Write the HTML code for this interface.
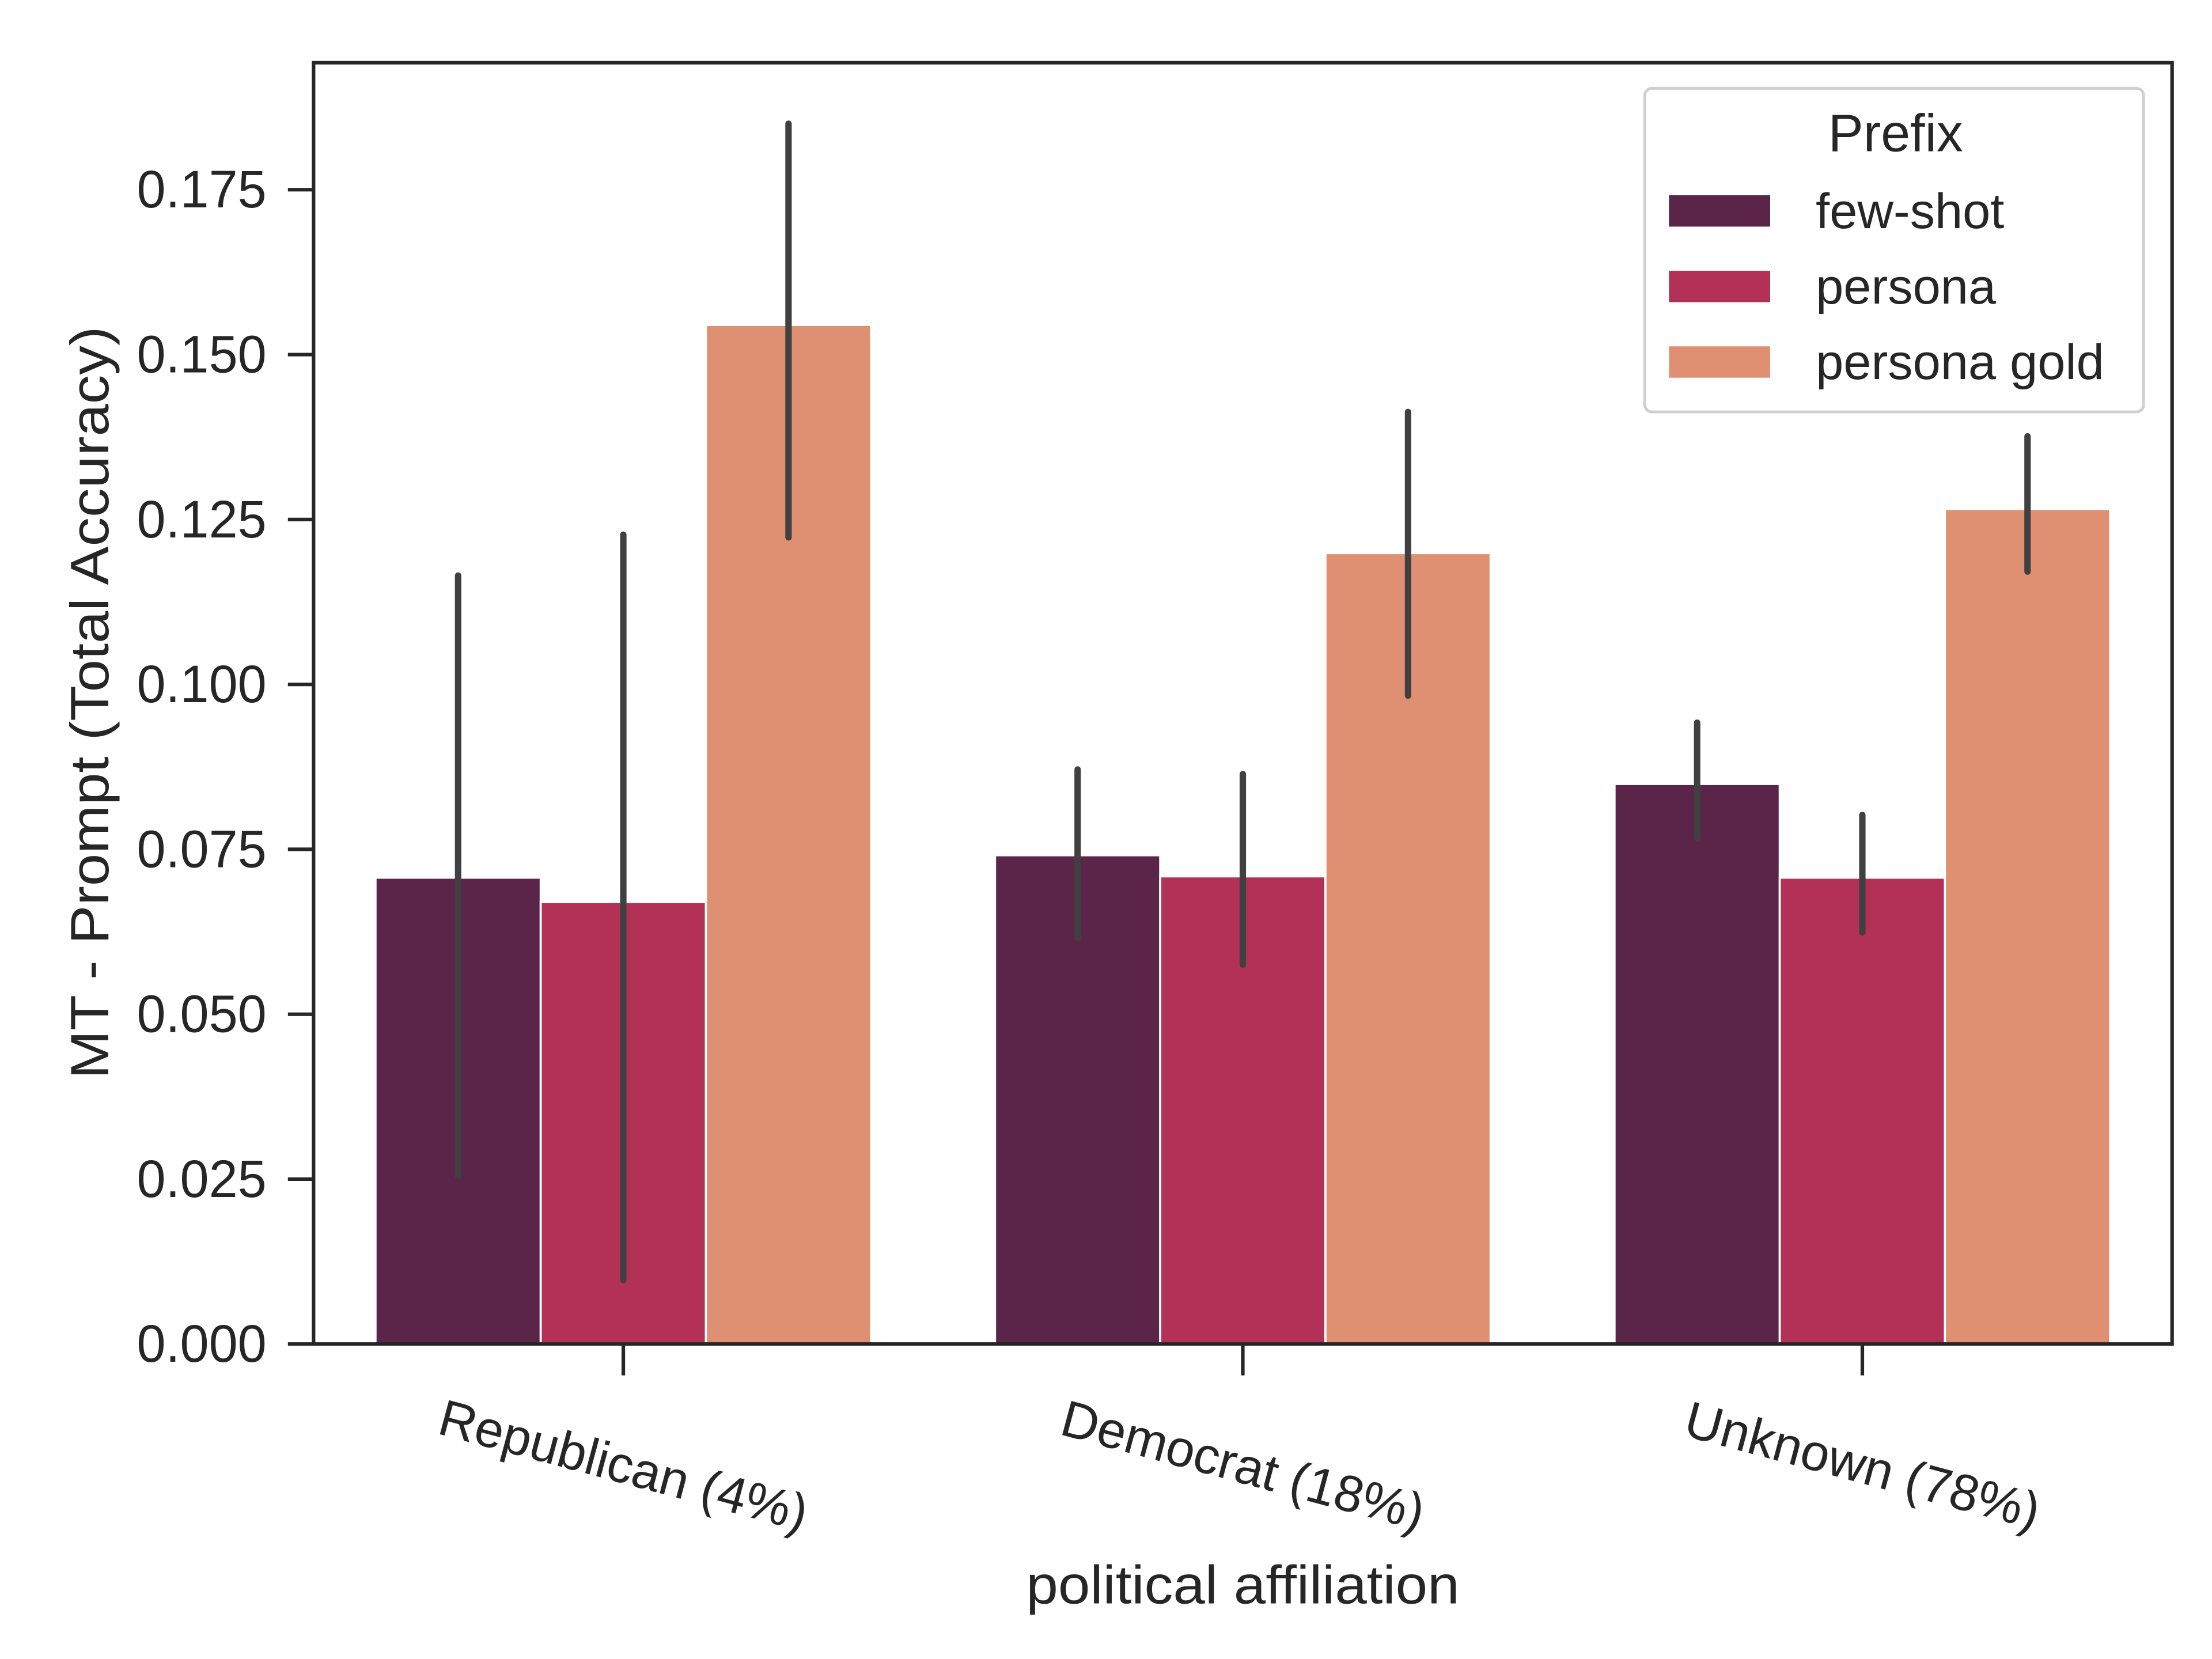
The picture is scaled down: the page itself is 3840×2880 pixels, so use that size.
<!DOCTYPE html>
<html><head><meta charset="utf-8"><style>
html,body{margin:0;padding:0;background:#fff}
svg{display:block}
text{font-family:"Liberation Sans",sans-serif;fill:#262626}
</style></head><body>
<svg id="chart" width="3840" height="2880" viewBox="0 0 1552 1164" xmlns="http://www.w3.org/2000/svg">
<g id="plot"></g>
</svg>
<script>
const categories = ["Republican (4%)", "Democrat (18%)", "Unknown (78%)"];
const seriesNames = ["few-shot", "persona", "persona gold"];
const fewShot = [0.0707, 0.0741, 0.0849];
const persona = [0.0670, 0.0709, 0.0707];
const personaGold = [0.1545, 0.1199, 0.1266];
const fewShotLo = [0.0255, 0.0616, 0.0767];
const fewShotHi = [0.1165, 0.0871, 0.0942];
const personaLo = [0.0097, 0.0575, 0.0624];
const personaHi = [0.1227, 0.0864, 0.0802];
const goldLo = [0.1223, 0.0983, 0.1171];
const goldHi = [0.1850, 0.1413, 0.1376];
const yTicks = [0, 0.025, 0.05, 0.075, 0.1, 0.125, 0.15, 0.175];
const yTickLabels = ["0.000","0.025","0.050","0.075","0.100","0.125","0.150","0.175"];

const colors = ["#5a2549", "#b33056", "#e09072"];
const L=220, R=1524, T=44, B=943;
const yScale = v => B - v/0.025*115.7;
const groupW = (R-L)/3;
const xCenter = i => L + groupW*(i+0.5);
const barW = groupW*0.8/3;
const NS="http://www.w3.org/2000/svg";
const g=document.getElementById('plot');
function mk(tag, attrs, parent){const e=document.createElementNS(NS,tag);for(const k in attrs)e.setAttribute(k,attrs[k]);(parent||g).appendChild(e);return e;}

const vals=[fewShot,persona,personaGold], los=[fewShotLo,personaLo,goldLo], his=[fewShotHi,personaHi,goldHi];
const slug=["few-shot","persona","persona-gold"];
const bars=mk('g',{});


categories.forEach((c,i)=>{
  vals.forEach((arr,s)=>{
    const x = xCenter(i) - 1.5*barW + s*barW;
    const r = mk('rect',{x:x,y:yScale(arr[i]),width:barW,height:B-yScale(arr[i]),fill:colors[s],stroke:'#fff','stroke-width':1.5},bars);
    
    
  });
});
categories.forEach((c,i)=>{
  vals.forEach((arr,s)=>{
    const x = xCenter(i) - barW + s*barW;
    const l = mk('line',{x1:x,x2:x,y1:yScale(los[s][i]),y2:yScale(his[s][i]),stroke:'#404040','stroke-width':4.5,'stroke-linecap':'round'});
    
    
  });
});
const fr = mk('rect',{x:L,y:T,width:R-L,height:B-T,fill:'none',stroke:'#262626','stroke-width':2.5});


yTicks.forEach((v,k)=>{
  const y=yScale(v);
  const t=mk('line',{x1:L-18,x2:L,y1:y,y2:y,stroke:'#262626','stroke-width':2.5});
  
  
  const tx=mk('text',{x:187,y:y+12.5,'font-size':37,'text-anchor':'end',textLength:91,lengthAdjust:'spacingAndGlyphs'});
  tx.textContent=yTickLabels[k];
  
  
});
categories.forEach((c,i)=>{
  const x=xCenter(i);
  const t=mk('line',{x1:x,x2:x,y1:B,y2:B+22,stroke:'#262626','stroke-width':2.5});
  
  
  const tx=mk('text',{x:0,y:0,'font-size':36,'text-anchor':'middle',transform:`translate(${x-3},${1040}) rotate(15)`});
  tx.textContent=c;
  
  
});
const xl=mk('text',{x:872,y:1125,'font-size':38,'text-anchor':'middle',textLength:304,lengthAdjust:'spacingAndGlyphs'});
xl.textContent='political affiliation';


const yl=mk('text',{x:0,y:0,'font-size':38,'text-anchor':'middle',textLength:528,lengthAdjust:'spacingAndGlyphs',transform:'translate(76,493) rotate(-90)'});
yl.textContent='MT - Prompt (Total Accuracy)';


const lg=mk('g',{});


mk('rect',{x:1154,y:62,width:350,height:227,rx:5,fill:'#fff','fill-opacity':0.8,stroke:'#d0d0d0','stroke-width':2},lg);
const lt=mk('text',{x:1330,y:106,'font-size':37,'text-anchor':'middle'},lg);
lt.textContent='Prefix';


seriesNames.forEach((n,s)=>{
  const y=148+s*53;
  const e=mk('g',{},lg);
  
  
  mk('rect',{x:1171,y:y-11,width:71,height:22,fill:colors[s]},e);
  const tx=mk('text',{x:1274,y:y+12,'font-size':35},e);
  tx.textContent=n;
});
</script>
</body></html>
